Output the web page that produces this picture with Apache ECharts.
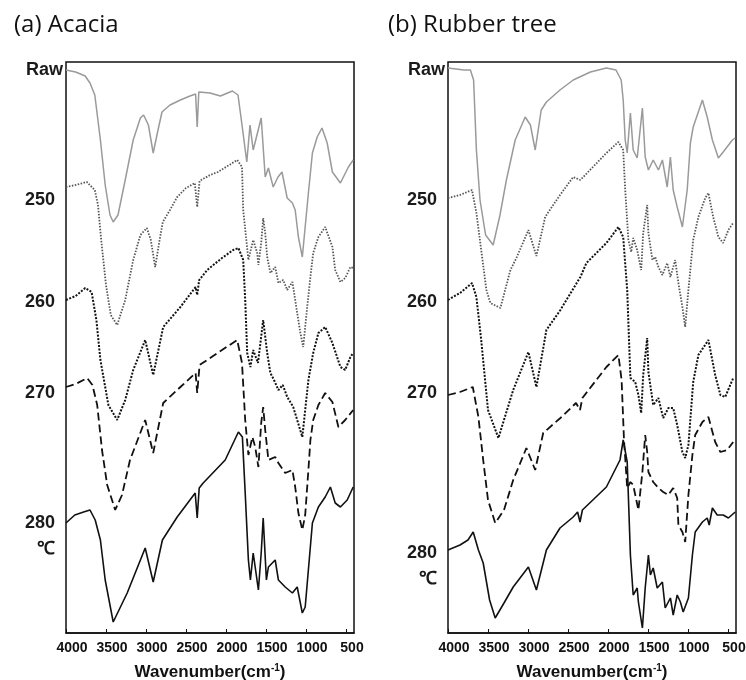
<!DOCTYPE html>
<html>
<head>
<meta charset="utf-8">
<script src="https://cdn.jsdelivr.net/npm/echarts@6/dist/echarts.min.js"></script>
<style>
  html, body { margin: 0; padding: 0; background: #fff; }
  #main { width: 746px; height: 680px; }
</style>
</head>
<body>
<div id="main"></div>
<script>
var chartDom = document.getElementById('main');
var myChart = echarts.init(chartDom);
var option;

// wavenumber tick labels (cm-1)
var wnTicks = [4000, 3500, 3000, 2500, 2000, 1500, 1000, 500];
// sample names shown on the left of each panel
var sampleNames = ['Raw', '250', '260', '270', '280\n℃'];
// where each name sits on the (offset) transmittance scale
var nameLevelsA = [563, 433, 331, 240, 97];
var nameLevelsB = [563, 433, 331, 240, 67];

// (a) Acacia, offset transmittance (a.u.) vs wavenumber
var acaciaRaw = [[4000,563],[3880,561],[3760,557],[3700,550],[3640,538],[3570,493],[3510,448],[3450,418],[3410,411],[3350,418],[3260,453],[3160,493],[3070,515],[3030,518],[2970,508],[2910,480],[2850,503],[2800,521],[2700,528],[2570,533],[2450,537],[2380,539],[2360,506],[2340,541],[2200,540],[2070,537],[1920,542],[1850,538],[1800,508],[1740,471],[1700,508],[1660,483],[1560,515],[1510,456],[1470,465],[1410,446],[1350,456],[1300,461],[1235,435],[1170,430],[1135,423],[1095,396],[1046,376],[970,440],[920,480],[860,496],[800,505],[735,490],[670,461],[570,450],[470,466],[410,473]];
var acacia250 = [[4000,446],[3880,448],[3740,451],[3640,443],[3600,428],[3560,393],[3500,348],[3440,318],[3360,308],[3260,333],[3160,373],[3070,398],[2990,405],[2940,393],[2885,366],[2830,393],[2790,411],[2700,423],[2610,436],[2500,445],[2390,450],[2360,426],[2330,452],[2200,458],[2100,461],[2000,466],[1900,471],[1860,473],[1800,466],[1785,423],[1720,373],[1660,393],[1610,380],[1595,368],[1560,390],[1535,415],[1510,400],[1485,376],[1445,360],[1385,366],[1345,350],[1285,353],[1235,343],[1170,351],[1135,333],[1110,320],[1070,300],[1035,286],[985,326],[945,356],[910,380],[845,396],[760,406],[670,386],[635,363],[570,351],[510,355],[445,366],[410,365]];
var acacia260 = [[4000,333],[3880,337],[3760,345],[3680,341],[3620,313],[3570,273],[3470,228],[3360,213],[3260,233],[3160,263],[3010,293],[2910,258],[2785,306],[2570,326],[2380,346],[2360,338],[2335,353],[2235,363],[2050,375],[1910,383],[1845,385],[1785,373],[1760,333],[1735,280],[1695,266],[1660,283],[1600,270],[1535,313],[1485,280],[1445,260],[1400,253],[1345,243],[1290,248],[1235,236],[1160,226],[1110,213],[1046,196],[970,253],[910,280],[845,300],[760,306],[670,290],[570,266],[510,263],[445,276],[410,280]];
var acacia270 = [[4000,246],[3880,249],[3735,255],[3670,248],[3610,228],[3550,183],[3485,148],[3385,123],[3300,138],[3200,173],[3010,213],[2910,180],[2785,230],[2570,246],[2380,260],[2360,240],[2330,268],[2050,283],[1860,293],[1800,270],[1760,213],[1720,178],[1670,196],[1635,186],[1595,166],[1560,210],[1535,226],[1510,203],[1470,173],[1385,176],[1345,170],[1260,160],[1170,163],[1135,146],[1095,120],[1046,103],[1010,118],[970,163],[945,193],[910,213],[845,228],[760,240],[670,231],[595,206],[510,213],[410,223]];
var acacia280 = [[4000,110],[3890,118],[3780,121],[3700,123],[3635,113],[3570,93],[3510,53],[3410,11],[3235,40],[3010,85],[2910,51],[2795,93],[2610,116],[2385,140],[2360,115],[2335,145],[2285,150],[2010,173],[1845,201],[1795,196],[1760,140],[1720,73],[1695,53],[1660,80],[1595,43],[1560,80],[1535,115],[1495,53],[1470,66],[1385,73],[1345,53],[1260,46],[1170,40],[1110,46],[1046,20],[1010,26],[920,110],[845,126],[760,136],[695,146],[635,130],[570,126],[485,133],[410,146]];

// (b) Rubber tree
var rubberRaw = [[4000,565],[3900,564],[3800,563],[3720,563],[3680,553],[3645,483],[3600,433],[3530,398],[3435,388],[3350,418],[3270,453],[3160,493],[3035,516],[2970,508],[2910,483],[2835,523],[2770,531],[2600,543],[2435,553],[2220,561],[2020,565],[1900,563],[1835,553],[1810,533],[1785,493],[1760,480],[1720,520],[1685,483],[1635,475],[1570,525],[1535,476],[1495,463],[1435,473],[1370,463],[1320,473],[1260,446],[1220,476],[1185,443],[1135,426],[1070,406],[1010,443],[970,490],[935,506],[820,533],[760,516],[695,493],[620,475],[560,481],[445,493],[410,495]];
var rubber250 = [[4000,435],[3850,438],[3700,443],[3645,420],[3585,383],[3520,343],[3470,330],[3345,325],[3220,363],[3145,375],[2995,403],[2895,377],[2785,416],[2600,438],[2435,456],[2345,453],[2020,480],[1870,491],[1810,483],[1785,443],[1745,393],[1710,381],[1685,395],[1635,383],[1585,363],[1560,400],[1510,428],[1495,400],[1445,373],[1410,376],[1370,366],[1320,358],[1260,370],[1220,356],[1160,373],[1120,350],[1070,326],[1035,306],[995,343],[935,393],[870,416],[785,435],[745,440],[685,416],[620,396],[560,390],[495,403],[435,410]];
var rubber260 = [[4000,333],[3850,340],[3700,350],[3645,336],[3585,293],[3500,223],[3370,195],[3185,243],[2995,281],[2895,246],[2770,303],[2595,323],[2345,356],[2270,370],[2020,390],[1870,406],[1810,396],[1760,343],[1720,255],[1660,251],[1620,238],[1585,220],[1560,258],[1510,295],[1495,261],[1435,228],[1370,235],[1310,215],[1245,225],[1185,225],[1135,208],[1070,181],[1035,175],[995,188],[935,251],[870,278],[745,293],[660,258],[595,238],[535,236],[435,255]];
var rubber270 = [[4000,238],[3850,241],[3690,246],[3620,216],[3560,173],[3500,133],[3410,110],[3300,123],[3185,153],[3020,185],[2910,163],[2810,200],[2595,215],[2400,230],[2350,223],[2320,235],[2020,266],[1870,278],[1830,253],[1800,193],[1760,145],[1720,151],[1685,148],[1620,123],[1570,161],[1535,198],[1510,181],[1495,161],[1435,151],[1370,145],[1310,141],[1245,138],[1185,145],[1135,135],[1120,108],[1070,101],[1035,91],[995,138],[945,178],[910,198],[820,211],[745,216],[660,191],[595,181],[510,183],[435,191]];
var rubber280 = [[4000,83],[3850,88],[3750,93],[3685,101],[3620,83],[3560,70],[3480,33],[3410,15],[3300,30],[3185,46],[2995,66],[2895,43],[2770,83],[2600,105],[2435,116],[2380,121],[2350,111],[2320,123],[2020,146],[1850,173],[1810,193],[1760,171],[1720,78],[1685,38],[1635,45],[1620,31],[1570,5],[1535,45],[1495,78],[1470,58],[1435,65],[1385,45],[1320,51],[1285,25],[1220,35],[1185,18],[1135,38],[1095,31],[1060,21],[995,35],[945,78],[910,101],[820,111],[760,115],[735,108],[695,125],[635,118],[560,118],[495,115],[410,121]];

// line looks for each sample
var looks = [
    { color: '#9a9a9a', width: 1.5, type: 'solid' },
    { color: '#555', width: 1.8, type: [1.5, 1.5] },
    { color: '#111', width: 2, type: [2, 1.5] },
    { color: '#111', width: 1.8, type: [8, 4] },
    { color: '#111', width: 1.6, type: 'solid' }
];

function makeX(idx) {
    return {
        type: 'value',
        gridIndex: idx,
        inverse: true,
        min: 400,
        max: 4000,
        splitLine: { show: false },
        axisLine: { show: true, onZero: false, lineStyle: { color: '#111', width: 1.5 } },
        axisTick: { show: true, inside: true, length: 4, customValues: wnTicks, lineStyle: { color: '#111' } },
        axisLabel: {
            customValues: wnTicks,
            margin: 8,
            formatter: function (v) { return '{v|' + v + '}'; },
            rich: { v: { fontFamily: 'Liberation Sans', fontSize: 14, fontWeight: 'bold', color: '#111', padding: [0, 0, 0, 12] } }
        },
        name: '{a|Wavenumber(cm}{s|-1}{a|)}',
        nameLocation: 'middle',
        nameGap: 30,
        nameTextStyle: {
            rich: {
                a: { fontFamily: 'Liberation Sans', fontSize: 17, fontWeight: 'bold', color: '#111' },
                s: { fontFamily: 'Liberation Sans', fontSize: 10, fontWeight: 'bold', color: '#111', padding: [0, 0, 8, 0] }
            }
        }
    };
}

function makeY(idx, levels) {
    return {
        type: 'value',
        gridIndex: idx,
        min: 0,
        max: 571,
        splitLine: { show: false },
        axisLine: { show: false },
        axisTick: { show: false },
        axisLabel: {
            customValues: levels,
            margin: 3,
            formatter: function (v) {
                var i = levels.indexOf(v);
                var s = sampleNames[i];
                if (i === 0) return '{r|' + s + '}';
                return s.split('\n').map(function (t) { return '{n|' + t + '}'; }).join('\n');
            },
            rich: {
                r: { fontFamily: 'Liberation Sans', fontSize: 18, fontWeight: 'bold', color: '#1a1a1a' },
                n: { fontFamily: 'Liberation Sans', fontSize: 18, fontWeight: 'bold', color: '#1a1a1a', padding: [0, 8, 0, 0], lineHeight: 26 }
            }
        }
    };
}

var panelA = [acaciaRaw, acacia250, acacia260, acacia270, acacia280];
var panelB = [rubberRaw, rubber250, rubber260, rubber270, rubber280];
var series = [];
[panelA, panelB].forEach(function (panel, g) {
    panel.forEach(function (data, i) {
        series.push({
            type: 'line',
            xAxisIndex: g,
            yAxisIndex: g,
            data: data,
            symbol: 'none',
            smooth: false,
            lineStyle: looks[i],
            z: 2
        });
    });
});

option = {
    animation: false,
    backgroundColor: '#fff',
    title: [
        { text: '(a) Acacia', left: 9, top: 8, textStyle: { fontFamily: 'Open Sans', fontSize: 24, fontWeight: 'normal', color: '#111' } },
        { text: '(b) Rubber tree', left: 383, top: 8, textStyle: { fontFamily: 'Open Sans', fontSize: 24, fontWeight: 'normal', color: '#111' } }
    ],
    grid: [
        { left: 66, top: 62, width: 288, height: 571, show: true, borderColor: '#111', borderWidth: 1.5, outerBoundsMode: 'none' },
        { left: 448, top: 62, width: 288, height: 571, show: true, borderColor: '#111', borderWidth: 1.5, outerBoundsMode: 'none' }
    ],
    xAxis: [makeX(0), makeX(1)],
    yAxis: [makeY(0, nameLevelsA), makeY(1, nameLevelsB)],
    series: series
};

option && myChart.setOption(option);
</script>
</body>
</html>
